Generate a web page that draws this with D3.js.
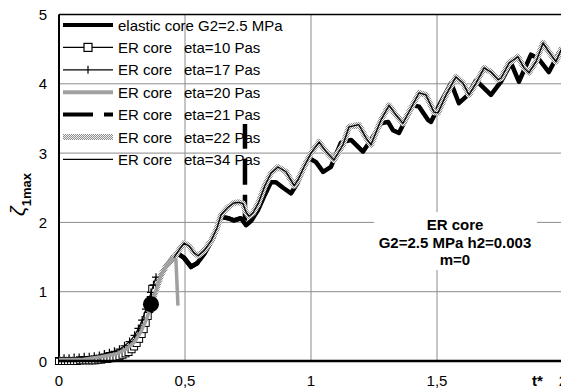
<!DOCTYPE html>
<html>
<head>
<meta charset="utf-8">
<script src="https://cdn.jsdelivr.net/npm/d3@7"></script>
<style>
  body { margin: 0; background: #fff; }
  text { font-family: "Liberation Sans", Arial, sans-serif; }
</style>
</head>
<body>
<div id="chartContainer"></div>
<script>
// time axis t* and zeta_1max
var earlyT    = [0, 0.087, 0.167, 0.226, 0.266, 0.298, 0.325, 0.349, 0.365, 0.385, 0.405, 0.425];
var earlyZeta = [0.02, 0.02, 0.06, 0.10, 0.17, 0.27, 0.42, 0.62, 0.81, 1.02, 1.24, 1.37];

var erT = [0.452, 0.476, 0.496, 0.516, 0.536, 0.552, 0.575, 0.603, 0.627, 0.643, 0.671, 0.694, 0.714, 0.730,
    0.742, 0.754, 0.770, 0.790, 0.817, 0.841, 0.869, 0.901, 0.933, 0.948, 0.972, 1.000, 1.032, 1.060, 1.091,
    1.127, 1.151, 1.190, 1.218, 1.238, 1.278, 1.310, 1.337, 1.365, 1.397, 1.429, 1.456, 1.488, 1.504, 1.536,
    1.575, 1.603, 1.627, 1.655, 1.687, 1.714, 1.742, 1.754, 1.786, 1.821, 1.845, 1.865, 1.893, 1.921, 1.944,
    1.972, 1.996];
var erZeta = [1.47, 1.60, 1.70, 1.66, 1.56, 1.52, 1.59, 1.73, 1.92, 2.11, 2.22, 2.28, 2.29, 2.27,
    2.15, 2.09, 2.14, 2.27, 2.53, 2.71, 2.80, 2.73, 2.53, 2.61, 2.80, 3.00, 3.16, 3.02, 2.90,
    3.12, 3.38, 3.41, 3.22, 3.12, 3.48, 3.69, 3.55, 3.43, 3.65, 3.87, 3.84, 3.59, 3.58, 3.84,
    4.10, 4.01, 3.84, 4.01, 4.23, 4.17, 4.06, 4.08, 4.30, 4.39, 4.23, 4.16, 4.32, 4.59, 4.46,
    4.32, 4.52];

var elasticT = [0.452, 0.476, 0.496, 0.524, 0.548, 0.575, 0.611, 0.643, 0.671, 0.694, 0.722, 0.742, 0.762,
    0.790, 0.817, 0.841, 0.861, 0.889, 0.921, 0.948, 0.972, 0.992, 1.020, 1.048, 1.079, 1.119, 1.159, 1.206,
    1.238, 1.278, 1.306, 1.325, 1.349, 1.389, 1.405, 1.429, 1.464, 1.476, 1.516, 1.556, 1.587, 1.623, 1.655,
    1.714, 1.754, 1.794, 1.825, 1.873, 1.901, 1.944, 1.980, 1.996];
var elasticZeta = [1.50, 1.54, 1.49, 1.36, 1.41, 1.54, 1.77, 2.08, 2.06, 2.03, 2.06, 1.96, 2.02,
    2.18, 2.40, 2.58, 2.58, 2.50, 2.42, 2.58, 2.79, 2.93, 2.87, 2.73, 2.80, 3.15, 3.19, 3.02,
    3.19, 3.43, 3.45, 3.33, 3.29, 3.58, 3.69, 3.67, 3.48, 3.45, 3.74, 4.01, 3.72, 3.84, 4.05,
    3.84, 4.03, 4.30, 4.03, 4.42, 4.37, 4.17, 4.42, 4.52];

var eta10T    = [0, 0.012, 0.024, 0.036, 0.048, 0.06, 0.072, 0.084, 0.096, 0.108, 0.12, 0.132, 0.144, 0.156,
    0.168, 0.18, 0.192, 0.204, 0.216, 0.228, 0.24, 0.252, 0.264, 0.276, 0.288, 0.298, 0.308, 0.318, 0.328,
    0.336, 0.344, 0.352, 0.358, 0.364, 0.37];
var eta10Zeta = [0.00, 0.00, 0.00, 0.00, 0.00, 0.00, 0.00, 0.01, 0.01, 0.01, 0.01, 0.01, 0.01, 0.02,
    0.02, 0.03, 0.03, 0.04, 0.05, 0.06, 0.07, 0.09, 0.11, 0.13, 0.17, 0.21, 0.26, 0.32, 0.39,
    0.46, 0.55, 0.65, 0.75, 0.88, 1.04];

var eta17T    = [0, 0.02, 0.04, 0.06, 0.08, 0.10, 0.12, 0.14, 0.16, 0.18, 0.20, 0.22, 0.24, 0.26, 0.28,
    0.30, 0.315, 0.33, 0.345, 0.355, 0.365, 0.375, 0.385];
var eta17Zeta = [0.04, 0.04, 0.04, 0.05, 0.05, 0.06, 0.06, 0.07, 0.08, 0.10, 0.12, 0.14, 0.17, 0.22, 0.28,
    0.37, 0.47, 0.59, 0.75, 0.87, 0.99, 1.10, 1.21];

var eta20T    = [0.452, 0.464, 0.472];
var eta20Zeta = [1.47, 1.46, 0.80];

var eta21T    = [0.738, 0.738];
var eta21Zeta = [1.98, 3.42];

var dotT = [0.365], dotZeta = [0.82];

var xTicks = [0, 0.5, 1, 1.5, 2];
var xTickLabels = ["0", "0,5", "1", "1,5", "2"];
var yTicks = [0, 1, 2, 3, 4, 5];

var legendNames = ["elastic core G2=2.5 MPa", "ER core", "ER core", "ER core", "ER core", "ER core", "ER core"];
var legendEta = ["", "eta=10 Pas", "eta=17 Pas", "eta=20 Pas", "eta=21 Pas", "eta=22 Pas", "eta=34 Pas"];
var noteLines = ["ER core", "G2=2.5 MPa h2=0.003", "m=0"];

function init() {
    var ww = 561, h = 389;
    var x = d3.scaleLinear().domain([0, 2]).range([59, 563]);
    var y = d3.scaleLinear().domain([0, 5]).range([361, 14.5]);

    var svg = d3.select("#chartContainer").append("svg")
        .attr("width", ww).attr("height", h);

    var defs = svg.append("defs");
    var pat = defs.append("pattern").attr("id", "checker")
        .attr("width", 2).attr("height", 2).attr("patternUnits", "userSpaceOnUse");
    pat.append("rect").attr("width", 2).attr("height", 2).attr("fill", "#f4f4f4");
    pat.append("rect").attr("width", 1).attr("height", 1).attr("fill", "#8a8a8a");
    pat.append("rect").attr("x", 1).attr("y", 1).attr("width", 1).attr("height", 1).attr("fill", "#8a8a8a");

    // grid
    svg.selectAll("line.gy").data(yTicks.slice(1, 5)).enter().append("line")
        .attr("x1", 59).attr("x2", ww).attr("y1", d => y(d)).attr("y2", d => y(d))
        .attr("stroke", "#8c8c8c").attr("stroke-width", 1);
    svg.selectAll("line.gx").data(xTicks.slice(1)).enter().append("line")
        .attr("x1", d => x(d)).attr("x2", d => x(d)).attr("y1", y(5)).attr("y2", y(0))
        .attr("stroke", "#8c8c8c").attr("stroke-width", 1);

    // note box
    svg.append("rect").attr("x", 374).attr("y", 212).attr("width", 163).attr("height", 58).attr("fill", "#fff");
    svg.selectAll("text.note").data(noteLines).enter().append("text")
        .attr("x", 455).attr("y", (d, i) => 230 + i * 17.5)
        .attr("text-anchor", "middle").attr("font-size", 15).attr("font-weight", "bold")
        .text(d => d);

    // frame
    svg.append("line").attr("x1", 59).attr("x2", ww).attr("y1", y(5)).attr("y2", y(5))
        .attr("stroke", "#000").attr("stroke-width", 1.5);
    svg.append("line").attr("x1", 59).attr("x2", 59).attr("y1", y(5)).attr("y2", y(0) + 1)
        .attr("stroke", "#000").attr("stroke-width", 2);

    // tick labels
    svg.selectAll("text.yt").data(yTicks).enter().append("text")
        .attr("x", 47).attr("y", d => y(d) + 5.5).attr("text-anchor", "end")
        .attr("font-size", 15).text(d => d);
    svg.selectAll("text.xt").data(xTicks).enter().append("text")
        .attr("x", d => x(d)).attr("y", 386).attr("text-anchor", "middle")
        .attr("font-size", 15).text((d, i) => xTickLabels[i]);

    // axis titles
    var yt = svg.append("text").attr("transform", "translate(25,216) rotate(-90)")
        .attr("font-family", "'Liberation Serif', serif");
    yt.append("tspan").attr("font-size", 21).attr("font-style", "italic").text("ζ");
    yt.append("tspan").attr("font-size", 13).attr("font-weight", "bold").attr("dy", 6).text("1max");
    svg.append("text").attr("x", 532).attr("y", 386).attr("font-size", 15).attr("font-weight", "bold").text("t*");

    var line = d3.line().x(d => x(d[0])).y(d => y(d[1]));
    var zip = (a, b) => a.map((v, i) => [v, b[i]]);
    var early = zip(earlyT, earlyZeta);
    var elastic = early.concat(zip(elasticT, elasticZeta));
    var er = early.concat(zip(erT, erZeta));
    var eta21 = elastic.filter(d => d[0] < 0.735).concat(zip(eta21T, eta21Zeta));
    var eta20 = early.concat(zip(eta20T, eta20Zeta));
    var eta10 = zip(eta10T, eta10Zeta);
    var eta17 = zip(eta17T, eta17Zeta);

    svg.append("path").attr("d", line(elastic)).attr("fill", "none")
        .attr("stroke", "#000").attr("stroke-width", 4.5).attr("stroke-linejoin", "round");
    svg.append("path").attr("d", line(eta21)).attr("fill", "none")
        .attr("stroke", "#000").attr("stroke-width", 4.5).attr("stroke-dasharray", "26,10");
    svg.append("path").attr("d", line(er)).attr("fill", "none")
        .attr("stroke", "url(#checker)").attr("stroke-width", 6).attr("stroke-linejoin", "round");
    svg.append("path").attr("d", line(eta10)).attr("fill", "none")
        .attr("stroke", "#000").attr("stroke-width", 1.2);
    svg.selectAll("rect.sq").data(eta10).enter().append("rect")
        .attr("x", d => x(d[0]) - 3.5).attr("y", d => y(d[1]) - 3.5).attr("width", 7).attr("height", 7)
        .attr("fill", "#fff").attr("stroke", "#000").attr("stroke-width", 1);
    svg.append("path").attr("d", line(eta17)).attr("fill", "none")
        .attr("stroke", "#000").attr("stroke-width", 1.2);
    svg.selectAll("path.plus").data(eta17).enter().append("path")
        .attr("d", d => "M" + (x(d[0]) - 4) + "," + y(d[1]) + "h8M" + x(d[0]) + "," + (y(d[1]) - 4) + "v8")
        .attr("stroke", "#000").attr("stroke-width", 1.2);
    svg.append("path").attr("d", line(er)).attr("fill", "none")
        .attr("stroke", "#000").attr("stroke-width", 1.3).attr("stroke-linejoin", "round");
    svg.append("path").attr("d", line(eta20)).attr("fill", "none")
        .attr("stroke", "#a0a0a0").attr("stroke-width", 3.5);
    svg.selectAll("circle.dot").data(zip(dotT, dotZeta)).enter().append("circle")
        .attr("cx", d => x(d[0])).attr("cy", d => y(d[1])).attr("r", 8).attr("fill", "#000");

    // bottom axis over the marks
    svg.append("line").attr("x1", 58).attr("x2", ww).attr("y1", y(0)).attr("y2", y(0))
        .attr("stroke", "#000").attr("stroke-width", 2.5);

    // legend
    var lg = svg.selectAll("g.lg").data(legendNames).enter().append("g")
        .attr("transform", (d, i) => "translate(0," + (25 + i * 22.4) + ")");
    lg.append("text").attr("x", 118).attr("y", 5.5).attr("font-size", 15).text(d => d);
    lg.append("text").attr("x", 184).attr("y", 5.5).attr("font-size", 15).text((d, i) => legendEta[i]);

    var sym = function (i) { return d3.select(lg.nodes()[i]); };
    sym(0).append("line").attr("x1", 63).attr("x2", 113).attr("stroke", "#000").attr("stroke-width", 4);
    sym(1).append("line").attr("x1", 63).attr("x2", 113).attr("stroke", "#000").attr("stroke-width", 1.2);
    sym(1).append("rect").attr("x", 84).attr("y", -4).attr("width", 8).attr("height", 8)
        .attr("fill", "#fff").attr("stroke", "#000").attr("stroke-width", 1.2);
    sym(2).append("line").attr("x1", 63).attr("x2", 113).attr("stroke", "#000").attr("stroke-width", 1.2);
    sym(2).append("line").attr("x1", 88).attr("x2", 88).attr("y1", -4).attr("y2", 4)
        .attr("stroke", "#000").attr("stroke-width", 1.2);
    sym(3).append("line").attr("x1", 63).attr("x2", 113).attr("stroke", "#a0a0a0").attr("stroke-width", 4);
    sym(4).append("line").attr("x1", 63).attr("x2", 113).attr("stroke", "#000").attr("stroke-width", 4)
        .attr("stroke-dasharray", "30,11");
    sym(5).append("line").attr("x1", 63).attr("x2", 113).attr("stroke", "url(#checker)").attr("stroke-width", 6);
    sym(6).append("line").attr("x1", 63).attr("x2", 113).attr("stroke", "#000").attr("stroke-width", 1.3);
}

window.onload = init;
</script>
</body>
</html>
